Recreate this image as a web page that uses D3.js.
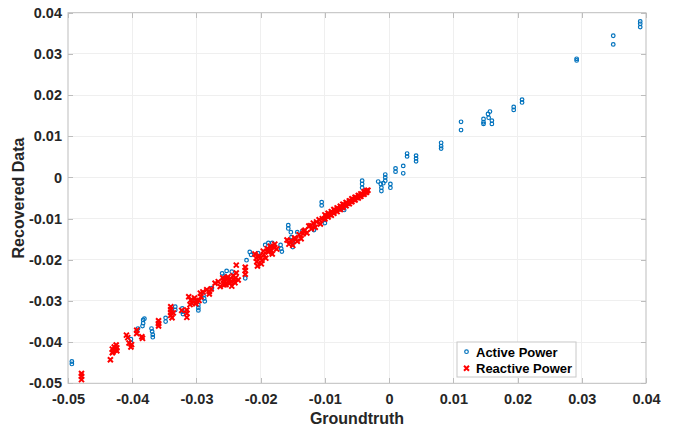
<!DOCTYPE html>
<html>
<head>
<meta charset="utf-8">
<script src="https://cdn.jsdelivr.net/npm/d3@7"></script>
<style>
  html, body { margin: 0; padding: 0; background: #fff; }
  svg { display: block; font-family: "Liberation Sans", Arial, Helvetica, sans-serif; }
</style>
</head>
<body>
<svg id="chart" width="678" height="430"></svg>
<script>
// ---- data ----
const xTicks = [-0.05, -0.04, -0.03, -0.02, -0.01, 0, 0.01, 0.02, 0.03, 0.04];
const yTicks = [-0.05, -0.04, -0.03, -0.02, -0.01, 0, 0.01, 0.02, 0.03, 0.04];
const xTickLabels = ["-0.05", "-0.04", "-0.03", "-0.02", "-0.01", "0", "0.01", "0.02", "0.03", "0.04"];
const yTickLabels = ["-0.05", "-0.04", "-0.03", "-0.02", "-0.01", "0", "0.01", "0.02", "0.03", "0.04"];
const seriesNames = ["Active Power", "Reactive Power"];
const xLabel = "Groundtruth";
const yLabel = "Recovered Data";

// Active Power: [groundtruth, recovered]
const activePower = [
  [-0.0494,-0.0447],[-0.0494,-0.0453],[-0.0402,-0.0393],[-0.0402,-0.0401],[-0.0391,-0.0367],
  [-0.0393,-0.0374],[-0.0383,-0.0346],[-0.0383,-0.0354],[-0.0384,-0.0361],[-0.0381,-0.0343],
  [-0.0370,-0.0367],[-0.0369,-0.0374],[-0.0368,-0.0382],[-0.0368,-0.0388],[-0.0348,-0.0341],
  [-0.0348,-0.0350],[-0.0333,-0.0314],[-0.0333,-0.0322],[-0.0322,-0.0318],[-0.0322,-0.0326],
  [-0.0321,-0.0332],[-0.0305,-0.0298],[-0.0305,-0.0305],[-0.0297,-0.0310],[-0.0297,-0.0317],
  [-0.0297,-0.0323],[-0.0289,-0.0286],[-0.0288,-0.0294],[-0.0287,-0.0301],[-0.0276,-0.0269],
  [-0.0260,-0.0233],[-0.0256,-0.0239],[-0.0253,-0.0227],[-0.0245,-0.0229],[-0.0224,-0.0245],
  [-0.0222,-0.0201],[-0.0217,-0.0181],[-0.0215,-0.0188],[-0.0204,-0.0184],[-0.0193,-0.0164],
  [-0.0188,-0.0159],[-0.0182,-0.0159],[-0.0180,-0.0168],[-0.0169,-0.0164],[-0.0168,-0.0173],
  [-0.0167,-0.0180],[-0.0157,-0.0116],[-0.0157,-0.0124],[-0.0153,-0.0133],[-0.0152,-0.0145],
  [-0.0150,-0.0157],[-0.0150,-0.0169],[-0.0143,-0.0133],[-0.0135,-0.0130],[-0.0118,-0.0118],
  [-0.0117,-0.0128],[-0.0105,-0.0060],[-0.0105,-0.0068],[-0.0100,-0.0101],[-0.0100,-0.0111],
  [-0.0076,-0.0077],[-0.0070,-0.0079],[-0.0042,-0.0008],[-0.0042,-0.0016],[-0.0042,-0.0025],
  [-0.0017,-0.0010],[-0.0013,-0.0016],[-0.0012,-0.0025],[-0.0012,-0.0033],[-0.0009,-0.0014],
  [-0.0006,0.0007],[-0.0006,0.0000],[-0.0006,-0.0008],[0.0002,-0.0016],[0.0002,-0.0025],
  [0.0010,0.0022],[0.0010,0.0014],[0.0022,0.0028],[0.0022,0.0010],[0.0028,0.0058],
  [0.0028,0.0051],[0.0042,0.0053],[0.0042,0.0046],[0.0042,0.0039],[0.0081,0.0084],
  [0.0081,0.0076],[0.0081,0.0070],[0.0112,0.0135],[0.0112,0.0115],[0.0147,0.0142],
  [0.0147,0.0134],[0.0147,0.0130],[0.0154,0.0154],[0.0155,0.0145],[0.0157,0.0160],
  [0.0160,0.0138],[0.0160,0.0130],[0.0194,0.0171],[0.0194,0.0164],[0.0207,0.0189],
  [0.0207,0.0182],[0.0292,0.0288],[0.0292,0.0284],[0.0349,0.0344],[0.0349,0.0323],
  [0.0391,0.0379],[0.0391,0.0373],[0.0391,0.0365]
];

// Reactive Power: [groundtruth, recovered]
const reactivePower = [
  [-0.0479,-0.0476],[-0.0479,-0.0483],[-0.0479,-0.0491],[-0.0434,-0.0443],[-0.0431,-0.0417],
  [-0.0428,-0.0412],[-0.0425,-0.0407],[-0.0430,-0.0424],[-0.0427,-0.0419],[-0.0424,-0.0414],
  [-0.0431,-0.0426],[-0.0424,-0.0421],[-0.0409,-0.0383],[-0.0407,-0.0389],[-0.0405,-0.0402],
  [-0.0401,-0.0406],[-0.0402,-0.0412],[-0.0393,-0.0371],[-0.0393,-0.0379],[-0.0385,-0.0387],
  [-0.0384,-0.0391],[-0.0359,-0.0348],[-0.0359,-0.0355],[-0.0359,-0.0361],[-0.0340,-0.0314],
  [-0.0340,-0.0321],[-0.0340,-0.0328],[-0.0340,-0.0335],[-0.0338,-0.0341],[-0.0336,-0.0329],
  [-0.0323,-0.0323],[-0.0315,-0.0322],[-0.0315,-0.0330],[-0.0315,-0.0340],[-0.0312,-0.0290],
  [-0.0309,-0.0298],[-0.0307,-0.0305],[-0.0303,-0.0293],[-0.0301,-0.0307],[-0.0310,-0.0309],
  [-0.0294,-0.0281],[-0.0293,-0.0290],[-0.0296,-0.0299],[-0.0290,-0.0278],[-0.0284,-0.0273],
  [-0.0280,-0.0277],[-0.0277,-0.0271],[-0.0280,-0.0283],[-0.0271,-0.0257],[-0.0266,-0.0253],
  [-0.0263,-0.0265],[-0.0259,-0.0244],[-0.0256,-0.0252],[-0.0254,-0.0260],[-0.0251,-0.0242],
  [-0.0249,-0.0249],[-0.0248,-0.0256],[-0.0245,-0.0264],[-0.0243,-0.0239],[-0.0241,-0.0248],
  [-0.0240,-0.0256],[-0.0238,-0.0232],[-0.0257,-0.0261],[-0.0238,-0.0213],[-0.0235,-0.0249],
  [-0.0224,-0.0218],[-0.0224,-0.0226],[-0.0224,-0.0235],[-0.0209,-0.0186],[-0.0207,-0.0196],
  [-0.0206,-0.0205],[-0.0205,-0.0215],[-0.0202,-0.0191],[-0.0199,-0.0210],[-0.0198,-0.0201],
  [-0.0196,-0.0179],[-0.0195,-0.0188],[-0.0192,-0.0196],[-0.0190,-0.0173],[-0.0188,-0.0181],
  [-0.0185,-0.0167],[-0.0184,-0.0177],[-0.0182,-0.0186],[-0.0179,-0.0171],[-0.0178,-0.0162],
  [-0.0175,-0.0174],[-0.0159,-0.0152],[-0.0156,-0.0162],[-0.0153,-0.0154],[-0.0150,-0.0165],
  [-0.0147,-0.0147],[-0.0143,-0.0155],[-0.0140,-0.0139],[-0.0137,-0.0149],[-0.0134,-0.0137],
  [-0.0131,-0.0128],[-0.0128,-0.0135],[-0.0125,-0.0118],[-0.0121,-0.0125],[-0.0118,-0.0111],
  [-0.0115,-0.0121],[-0.0113,-0.0108],[-0.0109,-0.0103],[-0.0107,-0.0113],[-0.0104,-0.0100],
  [-0.0100,-0.0091],[-0.0100,-0.0101],[-0.0095,-0.0087],[-0.0095,-0.0096],[-0.0090,-0.0083],
  [-0.0090,-0.0092],[-0.0086,-0.0078],[-0.0086,-0.0087],[-0.0081,-0.0074],[-0.0081,-0.0083],
  [-0.0076,-0.0070],[-0.0076,-0.0078],[-0.0072,-0.0065],[-0.0072,-0.0073],[-0.0067,-0.0061],
  [-0.0067,-0.0069],[-0.0062,-0.0057],[-0.0062,-0.0064],[-0.0058,-0.0052],[-0.0058,-0.0059],
  [-0.0053,-0.0048],[-0.0053,-0.0055],[-0.0048,-0.0044],[-0.0048,-0.0050],[-0.0044,-0.0040],
  [-0.0044,-0.0046],[-0.0039,-0.0035],[-0.0039,-0.0041],[-0.0035,-0.0032],[-0.0035,-0.0036],
  [-0.0098,-0.0094],[-0.0093,-0.0090],[-0.0088,-0.0085],[-0.0084,-0.0081],[-0.0079,-0.0076],
  [-0.0074,-0.0072],[-0.0070,-0.0067],[-0.0065,-0.0063],[-0.0060,-0.0058],[-0.0056,-0.0054],
  [-0.0051,-0.0049],[-0.0046,-0.0045],[-0.0042,-0.0041],[-0.0037,-0.0036],[-0.0033,-0.0031],
  [-0.0258,-0.0249],[-0.0246,-0.0252],[-0.0252,-0.0246],[-0.0239,-0.0244],[-0.0300,-0.0300],
  [-0.0122,-0.0117],[-0.0133,-0.0131],[-0.0146,-0.0151],[-0.0188,-0.0176],[-0.0201,-0.0196]
];

// ---- layout ----
const svg = d3.select("#chart");
const L = 68, R = 646, T = 12.7, B = 383.3;
const x = d3.scaleLinear().domain([-0.05, 0.04]).range([L, R]);
const y = d3.scaleLinear().domain([-0.05, 0.04]).range([B, T]);

const blue = "#0072BD", red = "#FF0000", axisCol = "#bdbdbd", gridCol = "#efefef", textCol = "#262626";

// grid
const g = svg.append("g");
g.selectAll("line.gx").data(xTicks.slice(1, -1)).join("line")
  .attr("x1", d => x(d)).attr("x2", d => x(d)).attr("y1", T).attr("y2", B)
  .attr("stroke", gridCol).attr("stroke-width", 1).attr("shape-rendering", "crispEdges");
g.selectAll("line.gy").data(yTicks.slice(1, -1)).join("line")
  .attr("y1", d => y(d)).attr("y2", d => y(d)).attr("x1", L).attr("x2", R)
  .attr("stroke", gridCol).attr("stroke-width", 1).attr("shape-rendering", "crispEdges");

// axes via d3 axis generators (inward ticks)
function styleAxis(sel) {
  sel.select(".domain").remove();
  sel.selectAll(".tick line").attr("stroke", axisCol).attr("shape-rendering", "crispEdges");
  sel.selectAll("text").attr("fill", textCol).attr("font-weight", "bold").attr("font-size", 14.5);
}
const fmtX = (d, i) => xTickLabels[i];
const fmtY = (d, i) => yTickLabels[i];
svg.append("g").attr("transform", `translate(0,${B})`)
  .call(d3.axisBottom(x).tickValues(xTicks).tickFormat(fmtX).tickSizeInner(-5).tickSizeOuter(0).tickPadding(10))
  .call(styleAxis);
svg.append("g").attr("transform", `translate(0,${T})`)
  .call(d3.axisTop(x).tickValues(xTicks).tickFormat("").tickSizeInner(-5).tickSizeOuter(0))
  .call(styleAxis);
svg.append("g").attr("transform", `translate(${L},0)`)
  .call(d3.axisLeft(y).tickValues(yTicks).tickFormat(fmtY).tickSizeInner(-5).tickSizeOuter(0).tickPadding(6))
  .call(styleAxis);
svg.append("g").attr("transform", `translate(${R},0)`)
  .call(d3.axisRight(y).tickValues(yTicks).tickFormat("").tickSizeInner(-5).tickSizeOuter(0))
  .call(styleAxis);

// box
svg.append("rect").attr("x", L).attr("y", T).attr("width", R - L).attr("height", B - T)
  .attr("fill", "none").attr("stroke", axisCol).attr("stroke-width", 1);

// axis titles
svg.append("text").attr("x", (L + R) / 2).attr("y", 424).attr("text-anchor", "middle")
  .attr("font-weight", "bold").attr("font-size", 16).attr("fill", textCol).text(xLabel);
svg.append("text").attr("transform", `translate(24,${(T + B) / 2}) rotate(-90)`).attr("text-anchor", "middle")
  .attr("font-weight", "bold").attr("font-size", 16).attr("fill", textCol).text(yLabel);

// markers
const xSym = d3.symbol().type(d3.symbolX).size(18);
function drawActive(sel) {
  sel.attr("r", 1.8).attr("fill", "none").attr("stroke", blue).attr("stroke-width", 1.2);
}
function drawReactive(sel) {
  sel.attr("d", xSym).attr("fill", "none").attr("stroke", red).attr("stroke-width", 2);
}
const plot = svg.append("g");
plot.selectAll("circle.ap").data(activePower).join("circle").attr("class", "ap")
  .attr("cx", d => x(d[0])).attr("cy", d => y(d[1])).call(drawActive);
plot.selectAll("path.rp").data(reactivePower).join("path").attr("class", "rp")
  .attr("transform", d => `translate(${x(d[0])},${y(d[1])})`).call(drawReactive);

// legend
const lg = svg.append("g");
lg.append("rect").attr("x", 457).attr("y", 342).attr("width", 119).attr("height", 35)
  .attr("fill", "#fff").attr("stroke", "#c8c8c8").attr("stroke-width", 1);
lg.append("circle").attr("cx", 466.5).attr("cy", 351.7).call(drawActive);
lg.append("path").attr("transform", "translate(466.5,368.3)").call(drawReactive);
lg.selectAll("text").data(seriesNames).join("text")
  .attr("x", 476).attr("y", (d, i) => 356.5 + i * 16.6)
  .attr("font-weight", "bold").attr("font-size", 13).attr("fill", "#000").text(d => d);
</script>
</body>
</html>
